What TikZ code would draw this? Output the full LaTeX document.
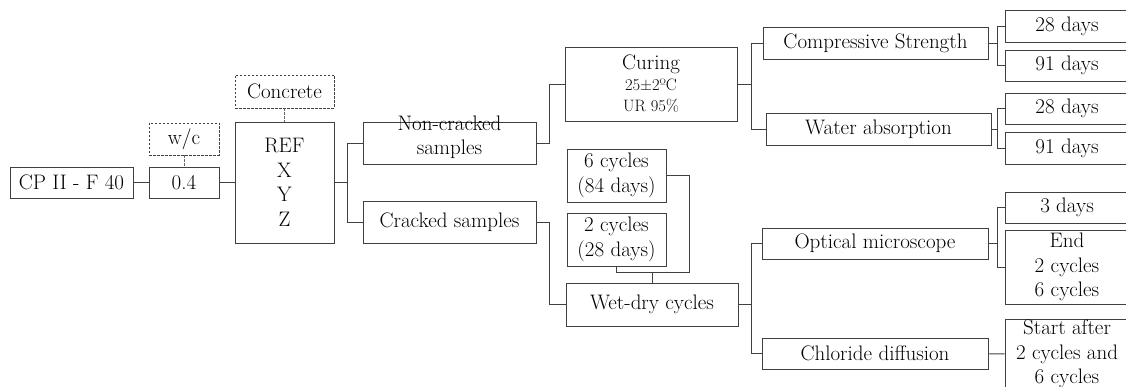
\documentclass[tikz,border=0pt]{standalone}
\usepackage{tikz}
\usetikzlibrary{positioning,calc}

\begin{document}
\begin{tikzpicture}[x=1pt, y=-1pt,
    box/.style={draw=black!75, line width=0.9pt, inner sep=0pt, align=center,
        font=\fontsize{21}{24.5}\selectfont, text=black},
    dbox/.style={box, dash pattern=on 2.5pt off 1.5pt, line width=0.7pt},
    link/.style={draw=black!75, line width=0.9pt},
    dlink/.style={draw=black!60, line width=0.7pt, dash pattern=on 2.5pt off 1.5pt}]
\useasboundingbox (0,0) rectangle (1126,387);
\clip (0,0) rectangle (1126,387);

\node[box, minimum width=123pt, minimum height=31pt] (cp) at (71.5,182.5) {CP II - F 40};
\node[box, minimum width=70pt, minimum height=31pt] (wcval) at (184,182.5) {0.4};
\node[dbox, minimum width=70pt, minimum height=32pt] (wc) at (184,139) {w/c};
\node[dbox, minimum width=99pt, minimum height=33pt] (conc) at (284.5,91.5) {Concrete};
\node[box, minimum width=99pt, minimum height=121pt] (mix) at (284.5,182.5) {REF\\X\\Y\\Z};
\node[box, minimum width=173pt, minimum height=42pt] (ncr) at (449.5,143)
    {\raisebox{0pt}[0pt][0pt]{\begin{tabular}{@{}c@{}}Non-cracked\\[-1pt]samples\end{tabular}}};
\node[box, minimum width=173pt, minimum height=42pt] (cr) at (449.5,222) {Cracked samples};
\node[box, minimum width=172pt, minimum height=74pt] (cure) at (651,84)
    {Curing\\[-4pt]{\fontsize{16.5}{20}\selectfont 25±2ºC}\\[-3pt]{\fontsize{16.5}{20}\selectfont UR 95\%}};
\node[box, minimum width=225pt, minimum height=32pt] (comp) at (875.5,43) {Compressive Strength};
\node[box, minimum width=225pt, minimum height=32pt] (wabs) at (878.5,129) {Water absorption};
\node[box, minimum width=124pt, minimum height=32pt] (c28) at (1067,26) {28 days};
\node[box, minimum width=124pt, minimum height=31pt] (c91) at (1067,65.5) {91 days};
\node[box, minimum width=124pt, minimum height=31pt] (w28) at (1067,108.5) {28 days};
\node[box, minimum width=124pt, minimum height=32pt] (w91) at (1067,148) {91 days};
\node[box, minimum width=99pt, minimum height=53pt] (six) at (616.5,175.5) {6 cycles\\(84 days)};
\node[box, minimum width=99pt, minimum height=53pt] (two) at (616.5,239.5) {2 cycles\\(28 days)};
\node[box, minimum width=172pt, minimum height=43pt] (wd) at (652,304.5) {Wet-dry cycles};
\node[box, minimum width=226pt, minimum height=31pt] (opt) at (875,243.5) {Optical microscope};
\node[box, minimum width=226pt, minimum height=31pt] (chl) at (875,353.5) {Chloride diffusion};
\node[box, minimum width=124pt, minimum height=31pt] (d3) at (1067,207.5) {3 days};
\node[box, minimum width=124pt, minimum height=74pt] (endb) at (1067,267) {End\\2 cycles\\6 cycles};
\node[box, minimum width=124pt, minimum height=70pt] (start) at (1067,354) {Start after\\2 cycles and\\6 cycles};

\draw[link] (cp) -- (wcval);
\draw[link] (wcval) -- (mix);
\draw[dlink] (wc) -- (wcval);
\draw[dlink] (conc) -- (mix);
\draw[link] (mix.east) -- ++(13,0) coordinate (f1);
\draw[link] (ncr.west) -| (f1) |- (cr.west);
\draw[link] (ncr.east) -- ++(13,0) |- (cure.west);
\draw[link] (cr.east) -- ++(13,0) |- (wd.west);
\draw[link] (cure.east) -- ++(14,0) coordinate (f2);
\draw[link] (comp.west) -| (f2) |- (wabs.west);
\draw[link] (comp.east) -- ++(9,0) coordinate (f3);
\draw[link] (c28.west) -| (f3) |- (c91.west);
\draw[link] (wabs.east) -- ++(6,0) coordinate (f4);
\draw[link] (w28.west) -| (f4) |- (w91.west);
\draw[link] (six.east) -| ++(23,97) -| (two.south);
\draw[link] (wd.north) -- ++(0,-10);
\draw[link] (wd.east) -- ++(13,0) coordinate (f5);
\draw[link] (opt.west) -| (f5) |- (chl.west);
\draw[link] (opt.east) -- ++(9,0) coordinate (f6);
\draw[link] (d3.west) -| (f6) |- (endb.west);
\draw[link] (chl) -- (start);
\end{tikzpicture}
\end{document}
